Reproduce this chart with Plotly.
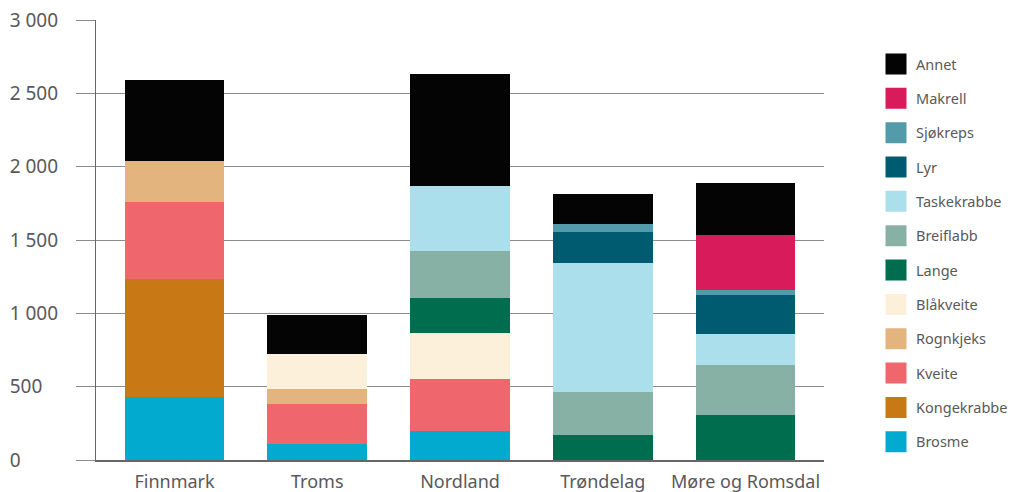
import plotly.graph_objects as go

categories = ["Finnmark", "Troms", "Nordland", "Trøndelag", "Møre og Romsdal"]

# series listed bottom -> top of the stack
series_names = ["Brosme", "Kongekrabbe", "Kveite", "Rognkjeks", "Blåkveite", "Lange",
                "Breiflabb", "Taskekrabbe", "Lyr", "Sjøkreps", "Makrell", "Annet"]

brosme      = [430, 110, 198, 0, 0]
kongekrabbe = [805, 0, 0, 0, 0]
kveite      = [525, 272, 354, 0, 0]
rognkjeks   = [280, 102, 0, 0, 0]
blaakveite  = [0, 240, 314, 0, 0]
lange       = [0, 0, 238, 170, 307]
breiflabb   = [0, 0, 321, 294, 341]
taskekrabbe = [0, 0, 443, 880, 211]
lyr         = [0, 0, 0, 211, 266]
sjokreps    = [0, 0, 0, 55, 34]
makrell     = [0, 0, 0, 0, 375]
annet       = [550, 267, 764, 205, 355]

series_values = [brosme, kongekrabbe, kveite, rognkjeks, blaakveite, lange,
                 breiflabb, taskekrabbe, lyr, sjokreps, makrell, annet]

colors = ["#03aacf", "#c87916", "#f0666d", "#e3b47e", "#fcf0db", "#006d4e",
          "#88b1a6", "#abdfec", "#005b70", "#539aab", "#d81b5a", "#040404"]

y_ticks = [0, 500, 1000, 1500, 2000, 2500, 3000]
y_max = 3000


def tick_label(v):
    # thousands separated by a space; padded on the right so labels line up on the left
    s = f"{v:,}".replace(",", "\u00a0")
    ref = f"{y_max:,}"
    digits_missing = sum(c.isdigit() for c in ref) - sum(c.isdigit() for c in s)
    seps_missing = (len(ref) - len(s)) - digits_missing
    return s + "\u2007" * digits_missing + "\u00a0" * seps_missing


y_tick_text = [tick_label(v) for v in y_ticks]

# the page has an 8px body margin; figure coordinates are shifted by 8px
W, H = 1015, 484
ML, MR, MT, MB = 88, 199, 12, 32
plot_w = W - ML - MR
plot_h = H - MT - MB

font_fam = "Noto Sans, Open Sans, sans-serif"
txt_col = "#595959"

fig = go.Figure()
for name, vals, col in zip(series_names, series_values, colors):
    fig.add_trace(go.Bar(
        x=categories, y=[v if v else None for v in vals], name=name,
        marker=dict(color=col, line=dict(width=0)),
        showlegend=False, hoverinfo="x+y+name",
    ))
# legend entries (larger square swatches), top entry first
for name, col in reversed(list(zip(series_names, colors))):
    fig.add_trace(go.Scatter(
        x=[None], y=[None], name=name, mode="markers",
        marker=dict(symbol="square", size=18, color=col, line=dict(color=col, width=5)),
        showlegend=True, legendgroup=name, hoverinfo="skip",
    ))

fig.update_layout(
    width=W, height=H,
    margin=dict(l=ML, r=MR, t=MT, b=MB, pad=0, autoexpand=False),
    barmode="stack", bargap=0.3,
    plot_bgcolor="white", paper_bgcolor="white",
    font=dict(family=font_fam, color=txt_col, size=18),
    xaxis=dict(
        type="category", range=[-0.55, 4.55], automargin=False,
        showline=True, linecolor="#666666", linewidth=1.5,
        ticks="", tickfont=dict(size=18, color=txt_col),
        ticklabelstandoff=5, ticklabeloverflow="allow",
        showgrid=False, zeroline=False,
    ),
    yaxis=dict(
        range=[0, y_max], tickvals=y_ticks, ticktext=y_tick_text,
        automargin=False,
        showgrid=True, gridcolor="#8c8c8c", gridwidth=1,
        ticks="outside", ticklen=19, tickcolor="#8c8c8c", tickwidth=1,
        ticklabelstandoff=14, ticklabeloverflow="allow",
        tickfont=dict(size=19, color=txt_col),
        showline=True, linecolor="#666666", linewidth=1.2,
        zeroline=False,
    ),
    legend=dict(
        x=(868 - ML) / plot_w, xanchor="left",
        y=1 - (40 - MT) / plot_h, yanchor="top",
        traceorder="grouped", tracegroupgap=12.5,
        font=dict(size=14.5, color=txt_col, family=font_fam),
        itemclick=False, itemdoubleclick=False,
    ),
)

fig.write_html("out.html")
